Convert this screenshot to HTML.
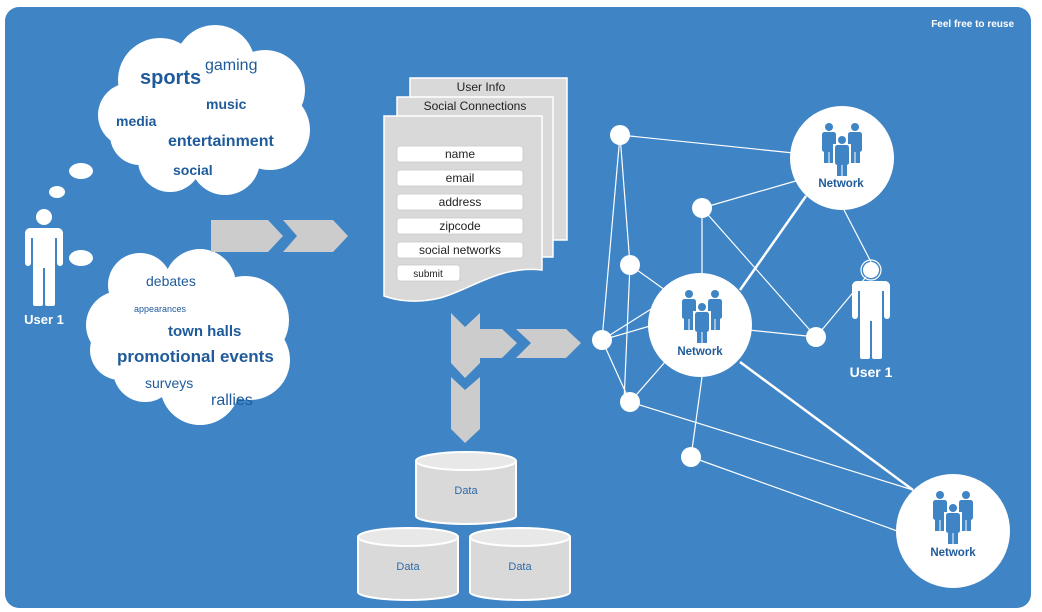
<!DOCTYPE html>
<html><head><meta charset="utf-8"><style>
html,body{margin:0;padding:0;background:#fff;}
svg{display:block;font-family:"Liberation Sans",sans-serif;}
</style></head><body>
<svg width="1042" height="612" viewBox="0 0 1042 612" xmlns="http://www.w3.org/2000/svg">
<defs>
<g id="person" fill="#fff">
  <circle cx="0" cy="0" r="8"/>
  <rect x="-19" y="11" width="38" height="10" rx="5"/>
  <rect x="-19" y="13" width="6" height="36" rx="3"/>
  <rect x="13" y="13" width="6" height="36" rx="3"/>
  <rect x="-11" y="13" width="22" height="38"/>
  <rect x="-11" y="45" width="10" height="44" rx="2"/>
  <rect x="1" y="45" width="10" height="44" rx="2"/>
</g>
<g id="mini" fill="#3f84c5">
  <circle cx="0" cy="0" r="4"/>
  <rect x="-7" y="5" width="14" height="20" rx="2.5"/>
  <rect x="-5" y="18" width="4.5" height="18"/>
  <rect x="0.5" y="18" width="4.5" height="18"/>
</g>
<g id="trio">
  <use href="#mini" x="-13" y="-31"/>
  <use href="#mini" x="13" y="-31"/>
  <circle cx="0" cy="-18" r="6" fill="#fff"/>
  <rect x="-9" y="-14" width="18" height="34" fill="#fff"/>
  <use href="#mini" x="0" y="-18"/>
</g>
</defs>
<rect x="5" y="7" width="1026" height="601" rx="14" fill="#3f84c5"/>
<text x="1014" y="27" font-size="10" font-weight="bold" fill="#fff" text-anchor="end">Feel free to reuse</text>

<!-- clouds -->
<g fill="#fff">
  <circle cx="160" cy="80" r="42"/><circle cx="215" cy="65" r="40"/><circle cx="265" cy="90" r="40"/>
  <circle cx="270" cy="130" r="40"/><circle cx="225" cy="160" r="35"/><circle cx="170" cy="160" r="32"/>
  <circle cx="130" cy="115" r="32"/><circle cx="200" cy="115" r="50"/><circle cx="140" cy="135" r="30"/>
  <circle cx="140" cy="285" r="32"/><circle cx="200" cy="285" r="36"/><circle cx="245" cy="320" r="44"/>
  <circle cx="250" cy="360" r="40"/><circle cx="200" cy="385" r="40"/><circle cx="145" cy="370" r="32"/>
  <circle cx="120" cy="325" r="34"/><circle cx="190" cy="330" r="55"/><circle cx="120" cy="350" r="30"/>
  <ellipse cx="81" cy="171" rx="12" ry="8"/><ellipse cx="57" cy="192" rx="8" ry="6"/><ellipse cx="81" cy="258" rx="12" ry="8"/>
</g>
<g fill="#1f5b9a" font-family="Liberation Sans, sans-serif">
  <text x="140" y="84" font-size="20" font-weight="bold">sports</text>
  <text x="205" y="70" font-size="16">gaming</text>
  <text x="206" y="109" font-size="14" font-weight="bold">music</text>
  <text x="116" y="126" font-size="14" font-weight="bold">media</text>
  <text x="168" y="146" font-size="16" font-weight="bold">entertainment</text>
  <text x="173" y="175" font-size="14" font-weight="bold">social</text>
  <text x="146" y="286" font-size="14">debates</text>
  <text x="134" y="312" font-size="9">appearances</text>
  <text x="168" y="336" font-size="15" font-weight="bold">town halls</text>
  <text x="117" y="362" font-size="17" font-weight="bold">promotional events</text>
  <text x="145" y="388" font-size="14">surveys</text>
  <text x="211" y="405" font-size="16">rallies</text>
</g>

<use href="#person" x="44" y="217"/>
<text x="44" y="324" font-size="13" font-weight="bold" fill="#fff" text-anchor="middle">User 1</text>

<!-- chevrons -->
<g fill="#cccccc">
  <polygon points="211,220 268,220 283,236 268,252 211,252"/>
  <polygon points="283,220 333,220 348,236 333,252 283,252 297,236"/>
  <polygon points="451,313 465,327 480,313 480,329 502,329 517,343 502,358 480,358 480,363 465,378 451,363"/>
  <polygon points="516,329 566,329 581,343 566,358 516,358 531,343"/>
  <polygon points="451,377 465,390 480,377 480,429 465,443 451,429"/>
</g>

<!-- documents -->
<g stroke="#fff" stroke-width="1.5" fill="#d9d9d9">
  <rect x="410" y="78" width="157" height="162"/>
  <rect x="397" y="97" width="156" height="160"/>
  <path d="M384,116 H542 V270 C500,265 470,290 440,298 C415,304 395,300 384,296 Z"/>
</g>
<g font-size="12" fill="#222" text-anchor="middle">
  <text x="481" y="91">User Info</text>
  <text x="475" y="110">Social Connections</text>
</g>
<g fill="#fff" stroke="#c8c8c8" stroke-width="0.8">
  <rect x="397" y="146" width="126" height="16" rx="3"/>
  <rect x="397" y="170" width="126" height="16" rx="3"/>
  <rect x="397" y="194" width="126" height="16" rx="3"/>
  <rect x="397" y="218" width="126" height="16" rx="3"/>
  <rect x="397" y="242" width="126" height="16" rx="3"/>
  <rect x="397" y="265" width="63" height="16" rx="3"/>
</g>
<g font-size="12" fill="#222" text-anchor="middle">
  <text x="460" y="158">name</text>
  <text x="460" y="182">email</text>
  <text x="460" y="206">address</text>
  <text x="460" y="230">zipcode</text>
  <text x="460" y="254">social networks</text>
  <text x="428" y="277" font-size="10">submit</text>
</g>

<!-- cylinders -->
<g stroke="#fff" stroke-width="2">
  <path d="M416,461 V516 A50,8 0 0 0 516,516 V461" fill="#d9d9d9"/>
  <ellipse cx="466" cy="461" rx="50" ry="9" fill="#e8e8e8"/>
  <path d="M358,537 V592 A50,8 0 0 0 458,592 V537" fill="#d9d9d9"/>
  <ellipse cx="408" cy="537" rx="50" ry="9" fill="#e8e8e8"/>
  <path d="M470,537 V592 A50,8 0 0 0 570,592 V537" fill="#d9d9d9"/>
  <ellipse cx="520" cy="537" rx="50" ry="9" fill="#e8e8e8"/>
</g>
<g font-size="11" fill="#2e6aa8" text-anchor="middle">
  <text x="466" y="494">Data</text>
  <text x="408" y="570">Data</text>
  <text x="520" y="570">Data</text>
</g>

<!-- network edges -->
<g stroke="#fff" stroke-width="1.2" fill="none">
  <line x1="620" y1="135" x2="842" y2="158"/>
  <line x1="620" y1="135" x2="602" y2="340"/>
  <line x1="620" y1="135" x2="630" y2="265"/>
  <line x1="702" y1="208" x2="806" y2="178"/>
  <line x1="702" y1="208" x2="702" y2="275"/>
  <line x1="702" y1="208" x2="816" y2="337"/>
  <line x1="843" y1="208" x2="871" y2="262"/>
  <line x1="816" y1="337" x2="866" y2="277"/>
  <line x1="630" y1="265" x2="665" y2="290"/>
  <line x1="630" y1="265" x2="624" y2="402"/>
  <line x1="602" y1="340" x2="705" y2="275"/>
  <line x1="602" y1="340" x2="650" y2="326"/>
  <line x1="602" y1="340" x2="630" y2="402"/>
  <line x1="630" y1="402" x2="665" y2="362"/>
  <line x1="630" y1="402" x2="913" y2="490"/>
  <line x1="700" y1="325" x2="816" y2="337"/>
  <line x1="702" y1="377" x2="691" y2="457"/>
  <line x1="691" y1="457" x2="900" y2="532"/>
</g>
<g stroke="#fff" stroke-width="2.5">
  <line x1="806" y1="196" x2="740" y2="290"/>
  <line x1="740" y1="362" x2="913" y2="490"/>
</g>
<g fill="#fff">
  <circle cx="620" cy="135" r="10"/><circle cx="702" cy="208" r="10"/><circle cx="630" cy="265" r="10"/>
  <circle cx="602" cy="340" r="10"/><circle cx="630" cy="402" r="10"/><circle cx="691" cy="457" r="10"/>
  <circle cx="816" cy="337" r="10"/>
  <circle cx="842" cy="158" r="52"/><circle cx="700" cy="325" r="52"/><circle cx="953" cy="531" r="57"/>
</g>
<use href="#trio" x="842" y="158"/>
<use href="#trio" x="702" y="325"/>
<use href="#trio" x="953" y="526"/>
<g font-size="11.5" font-weight="bold" fill="#1f5b9a" text-anchor="middle">
  <text x="841" y="187">Network</text>
  <text x="700" y="355">Network</text>
  <text x="953" y="556">Network</text>
</g>

<use href="#person" x="871" y="270"/>
<circle cx="871" cy="270" r="10" fill="none" stroke="#fff" stroke-width="1.2"/>
<text x="871" y="377" font-size="14" font-weight="bold" fill="#fff" text-anchor="middle">User 1</text>
</svg>
</body></html>
